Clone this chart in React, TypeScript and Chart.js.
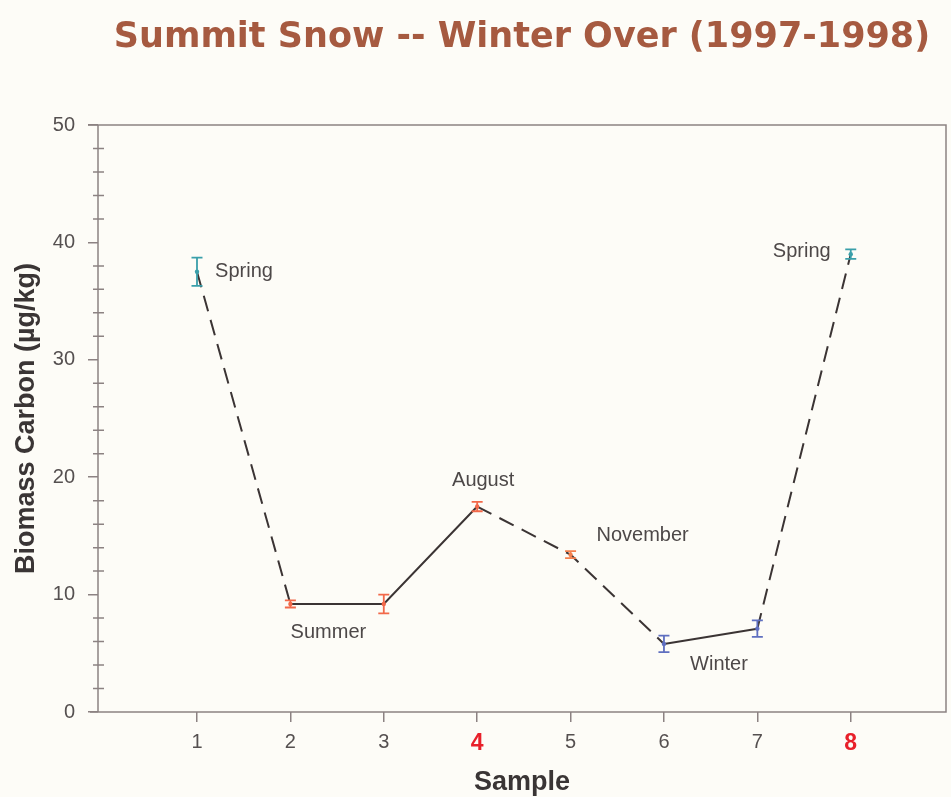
import React, { useEffect, useRef } from 'react';
import { Chart, registerables } from 'chart.js';

Chart.register(...registerables);

// ---- data ----
const samples = [1, 2, 3, 4, 5, 6, 7, 8];
const biomass = [37.5, 9.2, 9.2, 17.5, 13.4, 5.8, 7.1, 39.0];
const errors = [1.2, 0.3, 0.8, 0.4, 0.3, 0.7, 0.7, 0.4];
const seasons = ['Spring', 'Summer', '', 'August', 'November', 'Winter', '', 'Spring'];
const xTickLabels = ['1', '2', '3', '4', '5', '6', '7', '8'];
const highlightedSamples = [4, 8];
const dashedSegments = [true, false, false, true, true, false, true];
const yMinorTicks = [2, 4, 6, 8, 12, 14, 16, 18, 22, 24, 26, 28, 32, 34, 36, 38, 42, 44, 46, 48];

// ---- styles ----
const TEAL = '#3a9faa';
const ORANGE = '#f2694a';
const BLUE = '#5f6fc0';
const pointColors = [TEAL, ORANGE, ORANGE, ORANGE, '#f4804e', BLUE, BLUE, TEAL];
const AXIS = '#8c8282';
const TEXT = '#4d4848';
const FONT = "'Liberation Sans', Arial, sans-serif";
// label centre offsets (px) relative to each point
const labelOffsets: [number, number][] = [
  [47, 0], [38, 28], [0, 0], [6, -26], [72, -19], [55, 21], [0, 0], [-49, -3],
];

const decorPlugin = {
  id: 'decor',
  afterDatasetsDraw(chart: any) {
    const { ctx, scales } = chart;
    const x = scales.x, y = scales.y;
    ctx.save();
    ctx.lineWidth = 1.8;
    samples.forEach((s, i) => {
      const px = x.getPixelForValue(s);
      const top = y.getPixelForValue(biomass[i] + errors[i]);
      const bot = y.getPixelForValue(biomass[i] - errors[i]);
      ctx.strokeStyle = pointColors[i];
      ctx.beginPath();
      ctx.moveTo(px, top); ctx.lineTo(px, bot);
      ctx.moveTo(px - 5.5, top); ctx.lineTo(px + 5.5, top);
      ctx.moveTo(px - 5.5, bot); ctx.lineTo(px + 5.5, bot);
      ctx.stroke();
    });
    ctx.fillStyle = TEXT;
    ctx.font = `20px ${FONT}`;
    ctx.textAlign = 'center';
    ctx.textBaseline = 'middle';
    seasons.forEach((label, i) => {
      if (!label) return;
      const px = x.getPixelForValue(samples[i]);
      const py = y.getPixelForValue(biomass[i]);
      ctx.fillText(label, px + labelOffsets[i][0], py + labelOffsets[i][1]);
    });
    ctx.restore();
  },
  afterDraw(chart: any) {
    const { ctx, chartArea: ca, scales } = chart;
    const y = scales.y;
    ctx.save();
    ctx.strokeStyle = AXIS;
    ctx.lineWidth = 1.5;
    ctx.beginPath();
    ctx.moveTo(ca.left - 10, ca.top);
    ctx.lineTo(ca.right, ca.top);
    ctx.lineTo(ca.right, ca.bottom);
    ctx.lineTo(ca.left - 8, ca.bottom);
    ctx.moveTo(ca.left, ca.top);
    ctx.lineTo(ca.left, ca.bottom);
    yMinorTicks.forEach((v) => {
      const py = y.getPixelForValue(v);
      ctx.moveTo(ca.left - 5, py);
      ctx.lineTo(ca.left + 6, py);
    });
    ctx.stroke();
    ctx.restore();
  },
};

export default function App() {
  const ref = useRef<HTMLCanvasElement | null>(null);

  useEffect(() => {
    if (!ref.current) return;
    const chart = new Chart(ref.current, {
      type: 'line',
      data: {
        datasets: [
          {
            data: samples.map((s, i) => ({ x: s, y: biomass[i] })),
            borderColor: '#3b3434',
            borderWidth: 2,
            pointRadius: 2.2,
            pointBackgroundColor: pointColors,
            pointBorderWidth: 0,
            tension: 0,
            fill: false,
            segment: {
              borderDash: (c: any) => (dashedSegments[c.p0DataIndex] ? [16, 9] : undefined),
            },
          } as any,
        ],
      },
      options: {
        animation: false,
        responsive: false,
        layout: { padding: { left: 0, right: 5, top: 0, bottom: 0 } },
        plugins: {
          legend: { display: false },
          tooltip: { enabled: false },
          title: {
            display: true,
            text: 'Summit Snow -- Winter Over (1997-1998)',
            fullSize: false,
            color: '#a65a40',
            font: { family: "'DejaVu Sans', sans-serif", weight: 'bold', size: 35, lineHeight: 1.2 },
            padding: { top: 17, bottom: 125 - 17 - 35 * 1.2 },
          },
        },
        scales: {
          x: {
            type: 'linear',
            min: -0.06,
            max: 9.02,
            afterBuildTicks: (s: any) => {
              s.ticks = samples.map((v) => ({ value: v }));
            },
            afterFit: (s: any) => {
              s.height = 85;
            },
            ticks: {
              autoSkip: false,
              maxRotation: 0,
              padding: 8,
              callback: (v: any) => {
                const i = samples.indexOf(Number(v));
                return i >= 0 ? xTickLabels[i] : '';
              },
              color: (c: any) => (highlightedSamples.includes(c.tick?.value) ? '#e8202a' : '#555050'),
              font: (c: any) =>
                highlightedSamples.includes(c.tick?.value)
                  ? { family: FONT, size: 23, weight: 'bold' }
                  : { family: FONT, size: 20 },
            },
            grid: { drawOnChartArea: false, tickLength: 10, color: AXIS, lineWidth: 1.5 },
            border: { display: false },
            title: {
              display: true,
              text: 'Sample',
              color: '#3a3535',
              font: { family: FONT, weight: 'bold', size: 27, lineHeight: 1 },
              padding: { top: 0, bottom: 1 },
            },
          },
          y: {
            min: 0,
            max: 50,
            afterFit: (s: any) => {
              s.width = 98;
            },
            ticks: { stepSize: 10, color: '#555050', font: { family: FONT, size: 20 }, padding: 13 },
            grid: { drawOnChartArea: false, tickLength: 10, color: AXIS, lineWidth: 1.5 },
            border: { display: false },
            title: {
              display: true,
              text: 'Biomass Carbon (µg/kg)',
              color: '#3a3535',
              font: { family: FONT, weight: 'bold', size: 27, lineHeight: 1.2 },
              padding: { top: 10, bottom: 0 },
            },
          },
        },
      } as any,
      plugins: [decorPlugin],
    });
    return () => chart.destroy();
  }, []);

  return (
    <div
      style={{
        position: 'fixed',
        left: 0,
        top: 0,
        width: 951,
        height: 797,
        background: '#fdfcf7',
      }}
    >
      <canvas ref={ref} width={951} height={797} style={{ display: 'block' }} />
    </div>
  );
}
